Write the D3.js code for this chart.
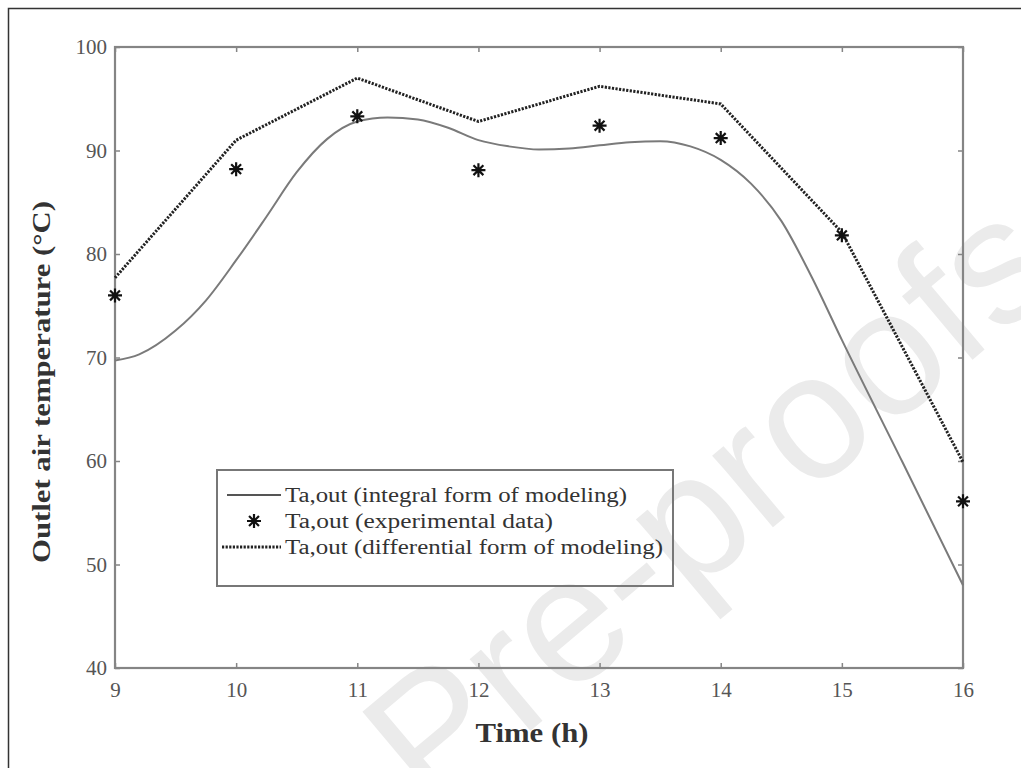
<!DOCTYPE html>
<html>
<head>
<meta charset="utf-8">
<script src="https://cdn.jsdelivr.net/npm/d3@7"></script>
<style>
  html, body { margin: 0; padding: 0; background: #fff; }
  svg { display: block; }
  text { font-family: "Liberation Serif", "Times New Roman", serif; }
</style>
</head>
<body>
<svg id="chart" width="1021" height="768"></svg>
<script>
// ---- data ----
const hours = [9, 10, 11, 12, 13, 14, 15, 16];
const experimental = [76.0, 88.2, 93.3, 88.1, 92.4, 91.2, 81.8, 56.1];
const differential = [77.7, 91.0, 97.0, 92.8, 96.2, 94.5, 82.1, 59.9];
// integral model: smooth curve, read at intermediate times
const integralTime = [9.0, 9.2, 9.5, 9.75, 10.0, 10.25, 10.5, 10.75, 11.0, 11.25, 11.5, 11.75, 12.0, 12.25, 12.5, 12.75, 13.0, 13.25, 13.5, 13.75, 14.0, 14.25, 14.5, 14.75, 15.0, 15.5, 16.0];
const integralTemp = [69.7, 70.3, 72.6, 75.5, 79.4, 83.6, 87.9, 91.1, 92.8, 93.2, 93.0, 92.2, 91.0, 90.4, 90.1, 90.2, 90.5, 90.8, 90.9, 90.4, 89.1, 86.8, 83.2, 77.8, 71.7, 59.9, 48.0];
const xTicks = [9, 10, 11, 12, 13, 14, 15, 16];
const yTicks = [40, 50, 60, 70, 80, 90, 100];
const legendLabels = [
  "Ta,out (integral form of modeling)",
  "Ta,out (experimental data)",
  "Ta,out (differential form of modeling)"
];
const xTitle = "Time (h)";
const yTitle = "Outlet air temperature (°C)";
const watermark = "Pre-proofs";

// ---- layout ----
const svg = d3.select("#chart");
const L = 115, R = 963, T = 47, B = 668;
const x = d3.scaleLinear().domain([9, 16]).range([L, R]);
const y = d3.scaleLinear().domain([40, 100]).range([B, T]);

const axisColor = "#858585";
const labelColor = "#555";

// outer frame of the figure
svg.append("rect").attr("x", 8.5).attr("y", 8.5).attr("width", 1030).attr("height", 800)
  .attr("fill", "none").attr("stroke", "#333").attr("stroke-width", 1.5);

// watermark (behind)
svg.append("text")
  .attr("transform", "translate(430,815) rotate(-40)")
  .style("font-family", "'Liberation Sans', Arial, sans-serif")
  .attr("font-size", 178)
  .attr("fill", "#ebebeb")
  .text(watermark);

// axes
function styleAxis(g) {
  g.selectAll(".domain").remove();
  g.selectAll(".tick line").attr("stroke", axisColor).attr("stroke-width", 1.5);
  g.selectAll(".tick text").attr("fill", labelColor).attr("font-size", 21)
    .style("font-family", "'Liberation Serif', serif");
}
const gx = svg.append("g").attr("transform", `translate(0,${B})`)
  .call(d3.axisBottom(x).tickValues(xTicks).tickFormat(d3.format("d")).tickSizeInner(-5).tickSizeOuter(0).tickPadding(14));
styleAxis(gx);
const gxt = svg.append("g").attr("transform", `translate(0,${T})`)
  .call(d3.axisTop(x).tickValues(xTicks).tickFormat("").tickSizeInner(-5).tickSizeOuter(0));
styleAxis(gxt);
const gy = svg.append("g").attr("transform", `translate(${L},0)`)
  .call(d3.axisLeft(y).tickValues(yTicks).tickFormat(d3.format("d")).tickSizeInner(-5).tickSizeOuter(0).tickPadding(8));
styleAxis(gy);
const gyr = svg.append("g").attr("transform", `translate(${R},0)`)
  .call(d3.axisRight(y).tickValues(yTicks).tickFormat("").tickSizeInner(-5).tickSizeOuter(0));
styleAxis(gyr);

// plot box
svg.append("rect").attr("x", L).attr("y", T).attr("width", R - L).attr("height", B - T)
  .attr("fill", "none").attr("stroke", axisColor).attr("stroke-width", 2.2);

// integral model (solid smooth)
const integralData = integralTime.map((t, i) => [t, integralTemp[i]]);
svg.append("path").datum(integralData)
  .attr("fill", "none").attr("stroke", "#7a7a7a").attr("stroke-width", 2)
  .attr("d", d3.line().x(d => x(d[0])).y(d => y(d[1])).curve(d3.curveMonotoneX));

// differential model (dotted polyline)
const diffData = hours.map((h, i) => [h, differential[i]]);
const dotStyle = sel => sel.attr("fill", "none").attr("stroke", "#222")
  .attr("stroke-width", 3).attr("stroke-dasharray", "2.2,1.4");
svg.append("path").datum(diffData).call(dotStyle)
  .attr("d", d3.line().x(d => x(d[0])).y(d => y(d[1])));

// experimental (asterisks)
const star = {
  draw(ctx, size) {
    const r = Math.sqrt(size) / 2;
    const d = r * Math.SQRT1_2;
    ctx.moveTo(-r, 0); ctx.lineTo(r, 0);
    ctx.moveTo(0, -r); ctx.lineTo(0, r);
    ctx.moveTo(-d, -d); ctx.lineTo(d, d);
    ctx.moveTo(-d, d); ctx.lineTo(d, -d);
  }
};
const starPath = d3.symbol().type(star).size(196)();
svg.append("g").selectAll("path").data(hours.map((h, i) => [h, experimental[i]])).join("path")
  .attr("transform", d => `translate(${x(d[0])},${y(d[1])})`)
  .attr("d", starPath).attr("fill", "none").attr("stroke", "#111").attr("stroke-width", 2.2);

// axis titles
svg.append("text").attr("x", (L + R) / 2 - 7).attr("y", 742)
  .attr("text-anchor", "middle").attr("font-size", 27).attr("font-weight", "bold")
  .attr("fill", "#333").attr("textLength", 113).attr("lengthAdjust", "spacingAndGlyphs")
  .text(xTitle);
svg.append("text").attr("transform", `translate(50,382) rotate(-90)`)
  .attr("text-anchor", "middle").attr("font-size", 25).attr("font-weight", "bold")
  .attr("fill", "#333").attr("textLength", 362).attr("lengthAdjust", "spacingAndGlyphs")
  .text(yTitle);

// legend
const lg = svg.append("g");
lg.append("rect").attr("x", 217).attr("y", 470).attr("width", 456).attr("height", 116)
  .attr("fill", "none").attr("stroke", "#777").attr("stroke-width", 2);
const rowY = [495, 521, 547];
lg.append("line").attr("x1", 227).attr("x2", 281).attr("y1", rowY[0]).attr("y2", rowY[0])
  .attr("stroke", "#555").attr("stroke-width", 2);
lg.append("path").attr("transform", `translate(254,${rowY[1]})`).attr("d", starPath)
  .attr("fill", "none").attr("stroke", "#111").attr("stroke-width", 2.2);
lg.append("line").attr("x1", 222).attr("x2", 281).attr("y1", rowY[2]).attr("y2", rowY[2]).call(dotStyle);
const legendLens = [342, 268, 378];
lg.selectAll("text.lbl").data(legendLabels).join("text").attr("class", "lbl")
  .attr("x", 285).attr("y", (d, i) => rowY[i] + 7)
  .attr("font-size", 20).attr("fill", "#333")
  .attr("textLength", (d, i) => legendLens[i]).attr("lengthAdjust", "spacingAndGlyphs")
  .text(d => d);
</script>
</body>
</html>
